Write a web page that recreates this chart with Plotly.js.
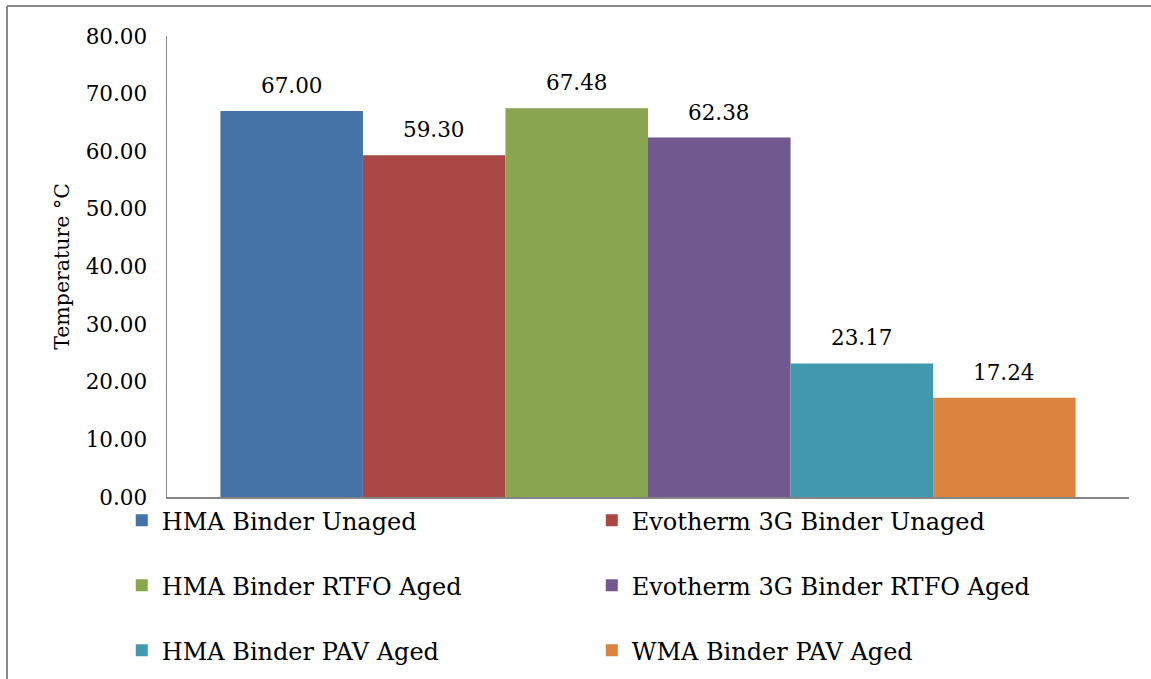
<!DOCTYPE html>
<html>
<head>
<meta charset="utf-8">
<script src="https://cdn.plot.ly/plotly-3.0.1.min.js"></script>
<style>html,body{margin:0;padding:0;background:#fff;}#chart{width:1151px;height:679px;}</style>
</head>
<body>
<div id="chart"></div>
<script>
var seriesNames = ["HMA Binder Unaged", "Evotherm 3G Binder Unaged", "HMA Binder RTFO Aged", "Evotherm 3G Binder RTFO Aged", "HMA Binder PAV Aged", "WMA Binder PAV Aged"];
var seriesValues = [67.00, 59.30, 67.48, 62.38, 23.17, 17.24];
var seriesColors = ["#4572A7", "#AA4643", "#89A54E", "#71588F", "#4198AF", "#DB843D"];
var yTickVals = [0, 10, 20, 30, 40, 50, 60, 70, 80];
var category = ["Temperature"];

var FONT = "DejaVu Serif, Liberation Serif, serif";
var bargap = 0.111;
var legendIds = ["legend", "legend", "legend2", "legend2", "legend3", "legend3"];

var traces = seriesNames.map(function (name, i) {
  return {
    type: "bar",
    name: name,
    x: category,
    y: [seriesValues[i]],
    marker: { color: seriesColors[i], line: { width: 0 } },
    legend: legendIds[i],
    hoverinfo: "name+y"
  };
});

var n = seriesNames.length;
var w = (1 - bargap) / n;
var annotations = seriesValues.map(function (v, i) {
  return {
    xref: "x", yref: "y",
    x: -0.5 * (1 - bargap) + (i + 0.5) * w,
    y: v,
    text: v.toFixed(2),
    showarrow: false,
    yanchor: "bottom",
    yshift: 11,
    font: { family: FONT, size: 21.5, color: "#000" }
  };
});

function legendAt(y) {
  return {
    orientation: "h",
    xref: "container", yref: "container",
    x: 0.1058, xanchor: "left",
    y: y, yanchor: "middle",
    font: { family: FONT, size: 24, color: "#000" },
    entrywidth: 425,
    bgcolor: "rgba(0,0,0,0)",
    traceorder: "normal"
  };
}

var layout = {
  width: 1151, height: 679,
  margin: { l: 167, r: 22, t: 36, b: 182 },
  paper_bgcolor: "#fff",
  plot_bgcolor: "#fff",
  font: { family: FONT, size: 21.5, color: "#000" },
  barmode: "group",
  bargap: bargap,
  bargroupgap: 0,
  showlegend: true,
  xaxis: {
    type: "category",
    showticklabels: false,
    showgrid: false,
    zeroline: false,
    showline: true,
    linecolor: "#868686",
    linewidth: 1.5,
    ticks: "",
    fixedrange: true
  },
  yaxis: {
    range: [0, 80],
    tickvals: yTickVals,
    ticktext: yTickVals.map(function (v) { return v.toFixed(2); }),
    showgrid: false,
    zeroline: false,
    showline: true,
    linecolor: "#868686",
    linewidth: 1.5,
    ticks: "",
    ticklabelstandoff: 14,
    tickfont: { family: FONT, size: 21.5, color: "#000" },
    title: { text: "Temperature °C", font: { family: FONT, size: 20.5, color: "#000" }, standoff: 10 },
    fixedrange: true
  },
  legend: legendAt(0.2331),
  legend2: legendAt(0.1374),
  legend3: legendAt(0.0417),
  annotations: annotations,
  shapes: [
    { type: "line", xref: "paper", yref: "paper", x0: -0.1663, x1: 1.03, y0: 1.0651, y1: 1.0651, line: { color: "#888888", width: 2 } },
    { type: "line", xref: "paper", yref: "paper", x0: -0.1663, x1: -0.1663, y0: 1.0651, y1: -0.40, line: { color: "#888888", width: 2 } }
  ]
};

Plotly.newPlot("chart", traces, layout, { displayModeBar: false, staticPlot: true });
</script>
</body>
</html>
